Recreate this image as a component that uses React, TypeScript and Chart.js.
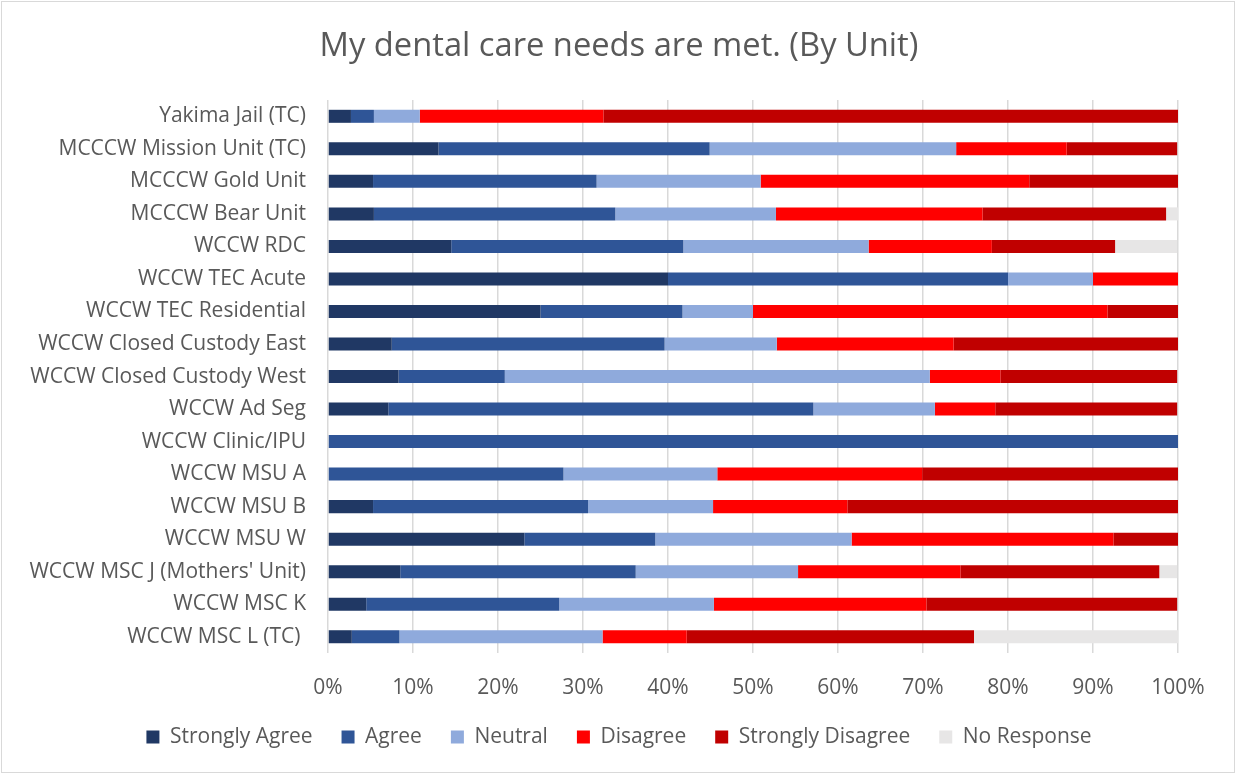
import React, { useEffect, useRef } from "react";
import { Chart, registerables } from "chart.js";

Chart.register(...registerables);

const categories = [
  "Yakima Jail (TC)",
  "MCCCW Mission Unit (TC)",
  "MCCCW Gold Unit",
  "MCCCW Bear Unit",
  "WCCW RDC",
  "WCCW TEC Acute",
  "WCCW TEC Residential",
  "WCCW Closed Custody East",
  "WCCW Closed Custody West",
  "WCCW Ad Seg",
  "WCCW Clinic/IPU",
  "WCCW MSU A",
  "WCCW MSU B",
  "WCCW MSU W",
  "WCCW MSC J (Mothers' Unit)",
  "WCCW MSC K",
  "WCCW MSC L (TC) ",
];

const stronglyAgree = [2.7, 13.0, 5.3, 5.4, 14.5, 40.0, 25.0, 7.5, 8.3, 7.1, 0, 0, 5.3, 23.1, 8.5, 4.5, 2.8];
const agree = [2.7, 31.9, 26.3, 28.4, 27.3, 40.0, 16.7, 32.1, 12.5, 50.0, 100, 27.7, 25.3, 15.4, 27.7, 22.7, 5.6];
const neutral = [5.4, 29.0, 19.3, 18.9, 21.8, 10.0, 8.3, 13.2, 50.0, 14.3, 0, 18.1, 14.7, 23.1, 19.1, 18.2, 23.9];
const disagree = [21.6, 13.0, 31.6, 24.3, 14.5, 10.0, 41.7, 20.8, 8.3, 7.1, 0, 24.1, 15.8, 30.8, 19.1, 25.0, 9.9];
const stronglyDisagree = [67.6, 13.0, 17.5, 21.6, 14.5, 0, 8.3, 26.4, 20.8, 21.4, 0, 30.1, 38.9, 7.7, 23.4, 29.5, 33.8];
const noResponse = [0, 0, 0, 1.4, 7.3, 0, 0, 0, 0, 0, 0, 0, 0, 0, 2.1, 0, 24.0];

const xTicks = ["0%", "10%", "20%", "30%", "40%", "50%", "60%", "70%", "80%", "90%", "100%"];

const FONT = "'Open Sans', 'Noto Sans', sans-serif";
const TEXT = "#595959";

export default function App() {
  const ref = useRef<HTMLCanvasElement | null>(null);

  useEffect(() => {
    document.body.style.margin = "0";
    const ctx = ref.current;
    if (!ctx) return;
    const mk = (label: string, data: number[], color: string) => ({
      label,
      data,
      backgroundColor: color,
      borderWidth: 0,
      barPercentage: 0.8,
      categoryPercentage: 0.5,
    });
    const chart = new Chart(ctx, {
      type: "bar",
      data: {
        labels: categories,
        datasets: [
          mk("Strongly Agree", stronglyAgree, "#203864"),
          mk("Agree", agree, "#2F5597"),
          mk("Neutral", neutral, "#8FAADC"),
          mk("Disagree", disagree, "#FF0000"),
          mk("Strongly Disagree", stronglyDisagree, "#C00000"),
          mk("No Response", noResponse, "#E7E6E6"),
        ],
      },
      options: {
        indexAxis: "y",
        animation: false,
        responsive: false,
        maintainAspectRatio: false,
        layout: { padding: { left: 0, right: 0, top: 0, bottom: 16.5 } },
        plugins: {
          title: {
            display: true,
            text: "My dental care needs are met. (By Unit)",
            color: TEXT,
            font: { family: FONT, size: 32.7, weight: "normal" },
            padding: { top: 27.4, bottom: 33.4 },
          },
          legend: {
            position: "bottom",
            labels: {
              color: TEXT,
              font: { family: FONT, size: 21 },
              boxWidth: 13,
              boxHeight: 13,
              padding: 29,
            },
          },
          tooltip: { enabled: false },
        },
        scales: {
          x: {
            stacked: true,
            min: 0,
            max: 100,
            ticks: {
              stepSize: 10,
              color: TEXT,
              font: { family: FONT, size: 21 },
              padding: 22,
              callback: (_v: any, i: number) => xTicks[i],
            },
            grid: { color: "#D9D9D9", lineWidth: 1.5, drawTicks: false },
            border: { display: false },
            afterFit: (s: any) => {
              s.height = 44.5;
            },
          },
          y: {
            stacked: true,
            ticks: {
              color: TEXT,
              font: { family: FONT, size: 21 },
              padding: 22,
              autoSkip: false,
            },
            grid: { display: false, drawTicks: false },
            border: { display: false },
            afterFit: (s: any) => {
              s.width = 328;
            },
          },
          spacer: {
            type: "linear",
            axis: "y",
            position: "right",
            display: true,
            ticks: { display: false },
            grid: { display: false, drawTicks: false },
            border: { display: false },
            afterFit: (s: any) => {
              s.width = 60;
            },
          },
        },
      },
    });
    return () => chart.destroy();
  }, []);

  return (
    <div style={{ position: "relative", width: 1238, height: 774, background: "#fff" }}>
      <canvas ref={ref} width={1238} height={774} style={{ position: "absolute", left: 0, top: 0 }} />
      <div
        style={{
          position: "absolute",
          left: 1,
          top: 1,
          width: 1232,
          height: 770,
          border: "1px solid #D9D9D9",
          pointerEvents: "none",
        }}
      />
    </div>
  );
}
